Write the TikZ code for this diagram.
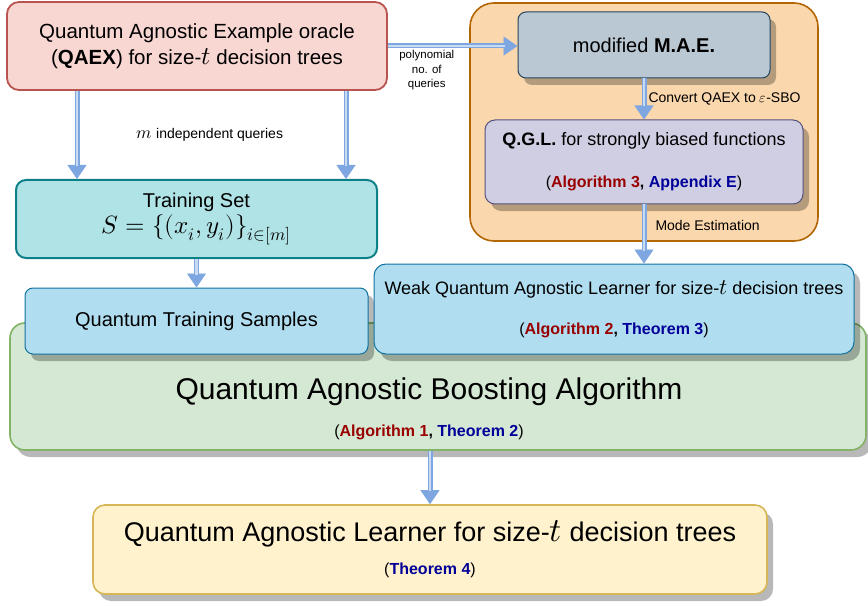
\documentclass[tikz,border=0pt]{standalone}
\usepackage{graphicx}
\usepackage{fontspec}
\usepackage{unicode-math}
\setmainfont{Liberation Sans}
\setmathfont{Latin Modern Math}
\usetikzlibrary{arrows.meta,shadows}

\definecolor{qaexfill}{HTML}{F8D7D3}
\definecolor{qaexline}{HTML}{B85450}
\definecolor{panelfill}{HTML}{FAD7AC}
\definecolor{panelline}{HTML}{B46504}
\definecolor{maefill}{HTML}{BAC8D3}
\definecolor{maeline}{HTML}{23445D}
\definecolor{qglfill}{HTML}{D0CEE2}
\definecolor{qglline}{HTML}{56517E}
\definecolor{setfill}{HTML}{B0E3E6}
\definecolor{setline}{HTML}{0E8088}
\definecolor{samplefill}{HTML}{B1DDF0}
\definecolor{sampleline}{HTML}{10739E}
\definecolor{boostfill}{HTML}{D5E8D4}
\definecolor{boostline}{HTML}{82B366}
\definecolor{learnfill}{HTML}{FFF2CC}
\definecolor{learnline}{HTML}{D6B656}
\definecolor{flowedge}{HTML}{7EA6E0}
\definecolor{flowcore}{HTML}{C9DAF3}
\definecolor{algred}{HTML}{990000}
\definecolor{thmblue}{HTML}{000099}

\newcommand{\algo}[1]{\textcolor{algred}{\textbf{#1}}}
\newcommand{\theo}[1]{\textcolor{thmblue}{\textbf{#1}}}
\newcommand{\mth}[1]{\scalebox{1.25}{$#1$}}

\tikzset{
  box/.style={rectangle, draw, line width=1pt, align=center, inner sep=0pt},
  shadowed/.style={drop shadow={shadow xshift=6pt, shadow yshift=-7pt, fill=black, opacity=0.28}},
  flow/.style={draw=flowedge, line width=5pt,
    -{Triangle[width=19pt,length=14pt,line width=0.8pt,fill=flowedge]},
    postaction={draw=flowcore, line width=2.4pt, -, shorten >=13pt}},
  note/.style={font=\fontsize{14}{17}\selectfont, inner sep=2pt}
}

\begin{document}
\begin{tikzpicture}[x=1pt,y=1pt]
  \useasboundingbox (0,0) rectangle (868,-607);

  % right panel
  \node[box, fill=panelfill, draw=panelline, line width=1.6pt, rounded corners=24pt,
    minimum width=348pt, minimum height=238pt] (panel) at (644,-122) {};
  \node[box, shadowed, fill=maefill, draw=maeline, rounded corners=8pt,
    minimum width=252pt, minimum height=66pt, font=\fontsize{20}{24}\selectfont]
    (mae) at (644,-45) {modified \textbf{M.A.E.}};
  \node[box, shadowed, fill=qglfill, draw=qglline, rounded corners=10pt,
    minimum width=318pt, minimum height=84pt, font=\fontsize{16}{19}\selectfont]
    (qgl) at (644,-162)
    {{\fontsize{18}{22}\selectfont\textbf{Q.G.L.} for strongly biased functions}\\[23pt]
     (\algo{Algorithm 3}\textbf{,} \theo{Appendix E})};

  % left column
  \node[box, fill=qaexfill, draw=qaexline, line width=1.8pt, rounded corners=12pt,
    minimum width=380pt, minimum height=88pt, font=\fontsize{20.5}{26}\selectfont]
    (qaex) at (197,-46)
    {Quantum Agnostic Example oracle\\(\textbf{QAEX}) for size-\mth{t} decision trees};
  \node[box, fill=setfill, draw=setline, line width=2pt, rounded corners=10pt,
    minimum width=361pt, minimum height=78pt, font=\fontsize{20}{26}\selectfont]
    (trainset) at (196.5,-219) {Training Set\\\mth{S=\{(x_i,y_i)\}_{i\in[m]}}};

  % boosting
  \node[box, shadowed, fill=boostfill, draw=boostline, line width=1.6pt, rounded corners=15pt,
    minimum width=856pt, minimum height=127pt] (boost) at (438,-386.5) {};
  \node[align=center, inner sep=0pt, font=\fontsize{16}{19}\selectfont] (boosttxt) at (429,-409)
    {{\fontsize{30}{36}\selectfont Quantum Agnostic Boosting Algorithm}\\[18pt]
     (\algo{Algorithm 1}\textbf{,} \theo{Theorem 2})};
  \node[box, shadowed, fill=samplefill, draw=sampleline, rounded corners=8pt,
    minimum width=343pt, minimum height=66pt, font=\fontsize{20}{24}\selectfont]
    (samples) at (196.5,-321) {Quantum Training Samples};
  \node[box, shadowed, fill=samplefill, draw=sampleline, rounded corners=12pt,
    minimum width=480pt, minimum height=90pt, font=\fontsize{16}{19}\selectfont]
    (weak) at (614,-309)
    {{\fontsize{18}{21}\selectfont Weak Quantum Agnostic Learner for size-\mth{t} decision trees}\\[21.5pt]
     (\algo{Algorithm 2}\textbf{,} \theo{Theorem 3})};

  % final learner
  \node[box, shadowed, fill=learnfill, draw=learnline, line width=1.6pt, rounded corners=12pt,
    minimum width=674pt, minimum height=89pt, font=\fontsize{16}{19}\selectfont]
    (learner) at (430,-549.5)
    {{\fontsize{27}{31}\selectfont Quantum Agnostic Learner for size-\mth{t} decision trees}\\[14pt]
     (\theo{Theorem 4})};

  % connectors
  \draw[flow] ([xshift=-120pt]qaex.south) -- ([xshift=-120pt]qaex.south |- trainset.north);
  \draw[flow] ([xshift=149pt]qaex.south) -- ([xshift=149pt]qaex.south |- trainset.north);
  \node[note] (mq) at (210,-135) {\mth{m} independent queries};
  \draw[flow] (qaex.east) -- (qaex.east -| mae.west)
    node[pos=0.3, below, align=center, inner sep=2pt, font=\fontsize{11.5}{14.5}\selectfont]
    (polyq) {polynomial\\no. of\\queries};
  \draw[flow] (mae.south) -- (qgl.north)
    node[midway, right, note] (conv) {Convert QAEX to $\varepsilon$-SBO};
  \draw[flow] (qgl.south) -- (qgl.south |- weak.north)
    node[pos=0.35, right=7pt, note] (mode) {Mode Estimation};
  \draw[flow] (trainset.south) -- (samples.north);
  \draw[flow] (learner.north |- boost.south) -- (learner.north);
\end{tikzpicture}
\end{document}
